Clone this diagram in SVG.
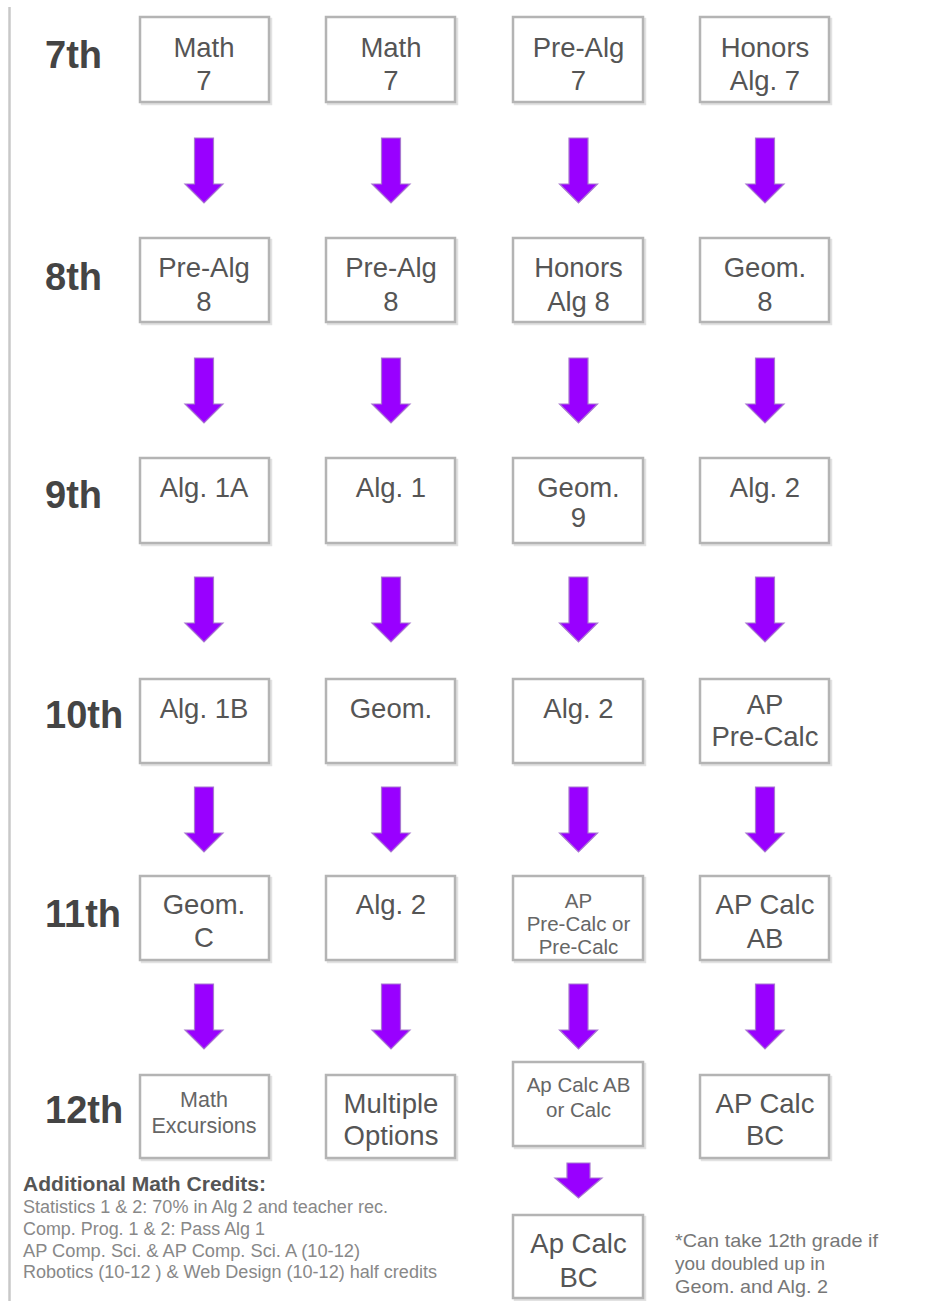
<svg xmlns="http://www.w3.org/2000/svg" width="950" height="1301" viewBox="0 0 950 1301">
<style>
  text { font-family: "Liberation Sans", Arial, sans-serif; }
  .grade { font-size: 38px; font-weight: bold; fill: #444; }
  .bx { fill: #fff; stroke: #b4b4b4; stroke-width: 2.5; }
  .sh { fill: none; stroke: #e2e2e2; stroke-width: 2.5; }
  .t { font-size: 27.5px; fill: #555; text-anchor: middle; }
  .ts { font-size: 20.5px; fill: #666; text-anchor: middle; }
  .arr { fill: #9900ff; stroke: #a878d0; stroke-width: 1.2; }
  .note { font-size: 19px; fill: #777; }
  .cred { font-size: 17.5px; fill: #888; }
  .credh { font-size: 20px; font-weight: bold; fill: #555; }
</style>
<defs>
  <path id="arrow" class="arr" d="M -9.5 0 L 9.5 0 L 9.5 46 L 19 46 L 0 65 L -19 46 L -9.5 46 Z"/>
</defs>
<rect width="950" height="1301" fill="#fff"/>
<line x1="9.5" y1="7" x2="9.5" y2="1301" stroke="#c8c8c8" stroke-width="2.5"/>

<g id="grades">
  <text class="grade" x="45" y="68">7th</text>
  <text class="grade" x="45" y="290">8th</text>
  <text class="grade" x="45" y="508">9th</text>
  <text class="grade" x="45" y="728">10th</text>
  <text class="grade" x="45" y="927">11th</text>
  <text class="grade" x="45" y="1123">12th</text>
</g>

<g id="connectors">
  <use href="#arrow" x="204" y="138"/>
  <use href="#arrow" x="391" y="138"/>
  <use href="#arrow" x="578.5" y="138"/>
  <use href="#arrow" x="765" y="138"/>
  <use href="#arrow" x="204" y="358"/>
  <use href="#arrow" x="391" y="358"/>
  <use href="#arrow" x="578.5" y="358"/>
  <use href="#arrow" x="765" y="358"/>
  <use href="#arrow" x="204" y="577"/>
  <use href="#arrow" x="391" y="577"/>
  <use href="#arrow" x="578.5" y="577"/>
  <use href="#arrow" x="765" y="577"/>
  <use href="#arrow" x="204" y="787"/>
  <use href="#arrow" x="391" y="787"/>
  <use href="#arrow" x="578.5" y="787"/>
  <use href="#arrow" x="765" y="787"/>
  <use href="#arrow" x="204" y="984"/>
  <use href="#arrow" x="391" y="984"/>
  <use href="#arrow" x="578.5" y="984"/>
  <use href="#arrow" x="765" y="984"/>
  <path class="arr" d="M 567 1163 L 590 1163 L 590 1178 L 602 1178 L 578.5 1198 L 555 1178 L 567 1178 Z"/>
</g>

<!-- Row 7 -->
<g id="r7c1"><rect class="sh" x="142" y="19" width="129" height="85"/><rect class="bx" x="140" y="17" width="129" height="85"/><text class="t" x="204" y="57">Math</text><text class="t" x="204" y="90">7</text></g>
<g id="r7c2"><rect class="sh" x="328" y="19" width="129" height="85"/><rect class="bx" x="326" y="17" width="129" height="85"/><text class="t" x="391" y="57">Math</text><text class="t" x="391" y="90">7</text></g>
<g id="r7c3"><rect class="sh" x="515" y="19" width="130" height="85"/><rect class="bx" x="513" y="17" width="130" height="85"/><text class="t" x="578.5" y="57">Pre-Alg</text><text class="t" x="578.5" y="90">7</text></g>
<g id="r7c4"><rect class="sh" x="702" y="19" width="129" height="85"/><rect class="bx" x="700" y="17" width="129" height="85"/><text class="t" x="765" y="57">Honors</text><text class="t" x="765" y="90">Alg. 7</text></g>

<!-- Row 8 -->
<g id="r8c1"><rect class="sh" x="142" y="240" width="129" height="84"/><rect class="bx" x="140" y="238" width="129" height="84"/><text class="t" x="204" y="277">Pre-Alg</text><text class="t" x="204" y="311">8</text></g>
<g id="r8c2"><rect class="sh" x="328" y="240" width="129" height="84"/><rect class="bx" x="326" y="238" width="129" height="84"/><text class="t" x="391" y="277">Pre-Alg</text><text class="t" x="391" y="311">8</text></g>
<g id="r8c3"><rect class="sh" x="515" y="240" width="130" height="84"/><rect class="bx" x="513" y="238" width="130" height="84"/><text class="t" x="578.5" y="277">Honors</text><text class="t" x="578.5" y="311">Alg 8</text></g>
<g id="r8c4"><rect class="sh" x="702" y="240" width="129" height="84"/><rect class="bx" x="700" y="238" width="129" height="84"/><text class="t" x="765" y="277">Geom.</text><text class="t" x="765" y="311">8</text></g>

<!-- Row 9 -->
<g id="r9c1"><rect class="sh" x="142" y="460" width="129" height="85"/><rect class="bx" x="140" y="458" width="129" height="85"/><text class="t" x="204" y="497">Alg. 1A</text></g>
<g id="r9c2"><rect class="sh" x="328" y="460" width="129" height="85"/><rect class="bx" x="326" y="458" width="129" height="85"/><text class="t" x="391" y="497">Alg. 1</text></g>
<g id="r9c3"><rect class="sh" x="515" y="460" width="130" height="85"/><rect class="bx" x="513" y="458" width="130" height="85"/><text class="t" x="578.5" y="497">Geom.</text><text class="t" x="578.5" y="527">9</text></g>
<g id="r9c4"><rect class="sh" x="702" y="460" width="129" height="85"/><rect class="bx" x="700" y="458" width="129" height="85"/><text class="t" x="765" y="497">Alg. 2</text></g>

<!-- Row 10 -->
<g id="r10c1"><rect class="sh" x="142" y="681" width="129" height="84"/><rect class="bx" x="140" y="679" width="129" height="84"/><text class="t" x="204" y="718">Alg. 1B</text></g>
<g id="r10c2"><rect class="sh" x="328" y="681" width="129" height="84"/><rect class="bx" x="326" y="679" width="129" height="84"/><text class="t" x="391" y="718">Geom.</text></g>
<g id="r10c3"><rect class="sh" x="515" y="681" width="130" height="84"/><rect class="bx" x="513" y="679" width="130" height="84"/><text class="t" x="578.5" y="718">Alg. 2</text></g>
<g id="r10c4"><rect class="sh" x="702" y="681" width="129" height="84"/><rect class="bx" x="700" y="679" width="129" height="84"/><text class="t" x="765" y="714">AP</text><text class="t" x="765" y="746">Pre-Calc</text></g>

<!-- Row 11 -->
<g id="r11c1"><rect class="sh" x="142" y="878" width="129" height="84"/><rect class="bx" x="140" y="876" width="129" height="84"/><text class="t" x="204" y="914">Geom.</text><text class="t" x="204" y="947">C</text></g>
<g id="r11c2"><rect class="sh" x="328" y="878" width="129" height="84"/><rect class="bx" x="326" y="876" width="129" height="84"/><text class="t" x="391" y="914">Alg. 2</text></g>
<g id="r11c3"><rect class="sh" x="515" y="878" width="130" height="84"/><rect class="bx" x="513" y="876" width="130" height="84"/><text class="ts" x="578.5" y="908">AP</text><text class="ts" x="578.5" y="931">Pre-Calc or</text><text class="ts" x="578.5" y="954">Pre-Calc</text></g>
<g id="r11c4"><rect class="sh" x="702" y="878" width="129" height="84"/><rect class="bx" x="700" y="876" width="129" height="84"/><text class="t" x="765" y="914">AP Calc</text><text class="t" x="765" y="948">AB</text></g>

<!-- Row 12 -->
<g id="r12c1"><rect class="sh" x="142" y="1077" width="129" height="83"/><rect class="bx" x="140" y="1075" width="129" height="83"/><text class="ts" x="204" y="1107" style="font-size:21.5px">Math</text><text class="ts" x="204" y="1133" style="font-size:21.5px">Excursions</text></g>
<g id="r12c2"><rect class="sh" x="328" y="1077" width="129" height="83"/><rect class="bx" x="326" y="1075" width="129" height="83"/><text class="t" x="391" y="1113">Multiple</text><text class="t" x="391" y="1145">Options</text></g>
<g id="r12c3"><rect class="sh" x="515" y="1064" width="130" height="84"/><rect class="bx" x="513" y="1062" width="130" height="84"/><text class="ts" x="578.5" y="1092">Ap Calc AB</text><text class="ts" x="578.5" y="1117">or Calc</text></g>
<g id="r12c4"><rect class="sh" x="702" y="1077" width="129" height="83"/><rect class="bx" x="700" y="1075" width="129" height="83"/><text class="t" x="765" y="1113">AP Calc</text><text class="t" x="765" y="1145">BC</text></g>

<!-- Extra -->
<g id="bc"><rect class="sh" x="515" y="1217" width="130" height="83"/><rect class="bx" x="513" y="1215" width="130" height="83"/><text class="t" x="578.5" y="1253">Ap Calc</text><text class="t" x="578.5" y="1287">BC</text></g>

<g id="footnote">
  <text class="note" x="675" y="1247" textLength="203" lengthAdjust="spacingAndGlyphs">*Can take 12th grade if</text>
  <text class="note" x="675" y="1270">you doubled up in</text>
  <text class="note" x="675" y="1293" textLength="153" lengthAdjust="spacingAndGlyphs">Geom. and Alg. 2</text>
</g>

<g id="credits">
  <text class="credh" x="23" y="1191" textLength="243" lengthAdjust="spacingAndGlyphs">Additional Math Credits:</text>
  <text class="cred" x="23" y="1213" textLength="365" lengthAdjust="spacingAndGlyphs">Statistics 1 &amp; 2: 70% in Alg 2 and teacher rec.</text>
  <text class="cred" x="23" y="1235" textLength="242" lengthAdjust="spacingAndGlyphs">Comp. Prog. 1 &amp; 2: Pass Alg 1</text>
  <text class="cred" x="23" y="1257" textLength="337" lengthAdjust="spacingAndGlyphs">AP Comp. Sci. &amp; AP Comp. Sci. A (10-12)</text>
  <text class="cred" x="23" y="1278" textLength="414" lengthAdjust="spacingAndGlyphs">Robotics (10-12 ) &amp; Web Design (10-12) half credits</text>
</g>
</svg>
